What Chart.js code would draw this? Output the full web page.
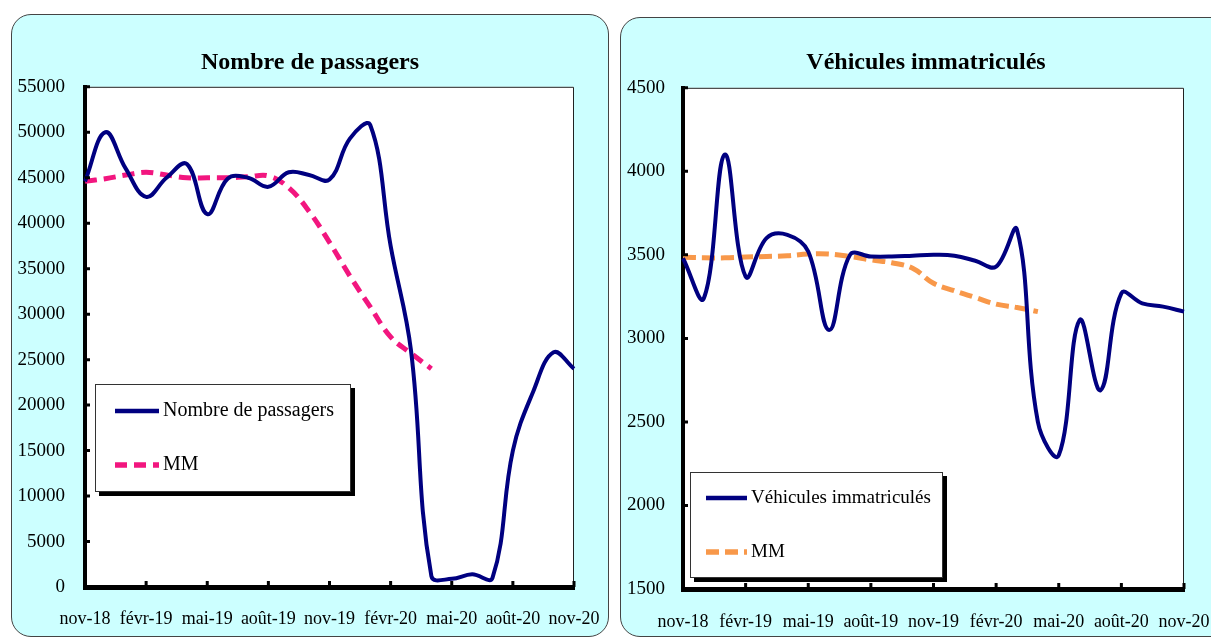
<!DOCTYPE html>
<html lang="fr">
<head>
<meta charset="utf-8">
<script src="https://cdn.jsdelivr.net/npm/chart.js@4.4.0/dist/chart.umd.min.js"></script>
<style>
  html, body { margin: 0; padding: 0; background: #fff; width: 1211px; height: 639px; overflow: hidden; }
  .panel { position: absolute; background: #ccffff; border: 1px solid #444; border-radius: 20px; overflow: hidden; }
  #js--left { left: 11px; top: 14px; width: 596px; height: 621px; }
  #js--right { left: 620px; top: 17px; width: 610px; height: 618px; }
  canvas { display: block; }
</style>
</head>
<body>
<div class="panel" id="js--left"><canvas id="js--passagers" width="596" height="621"></canvas></div>
<div class="panel" id="js--right"><canvas id="js--vehicules" width="610" height="618"></canvas></div>
<script>
// mois (un point par mois, une étiquette tous les 3 mois)
const months = ['nov-18', 'déc-18', 'janv-19', 'févr-19', 'mars-19', 'avr-19', 'mai-19', 'juin-19',
  'juil-19', 'août-19', 'sept-19', 'oct-19', 'nov-19', 'déc-19', 'janv-20', 'févr-20', 'mars-20',
  'avr-20', 'mai-20', 'juin-20', 'juil-20', 'août-20', 'sept-20', 'oct-20', 'nov-20'];

const passagers = [44600, 50000, 46000, 42900, 45000, 46500, 41000, 44900, 45000, 44000, 45600, 45300,
  44800, 49300, 50800, 37500, 26000, 1200, 900, 1400, 1000, 15000, 21500, 25800, 24000];
const passagersMM = [44600, 44900, 45300, 45600, 45300, 45000, 45000, 45000, 45100, 45200, 43900, 41300,
  37900, 34200, 30800, 27500, 25700, 24000];

const vehicules = [3480, 3240, 4100, 3370, 3600, 3620, 3520, 3050, 3500, 3490, 3490, 3495,
  3500, 3495, 3465, 3430, 3650, 2500, 2300, 3110, 2690, 3270, 3210, 3190, 3160];
const vehiculesMM = [3485, 3483, 3482, 3487, 3490, 3495, 3505, 3505, 3490, 3470, 3453, 3420,
  3330, 3285, 3245, 3205, 3185, 3160];

const passagersAxis = [0, 55000, 5000];   // min, max, pas
const vehiculesAxis = [1500, 4500, 500];

const serif = "'Liberation Serif', 'DejaVu Serif', serif";

// fond blanc, cadre fin, petites graduations vers l'intérieur
const framePlugin = {
  id: 'frame',
  beforeDraw(chart) {
    const a = chart.chartArea, ctx = chart.ctx;
    ctx.save();
    ctx.fillStyle = '#fff';
    ctx.fillRect(a.left, a.top, a.right - a.left, a.bottom - a.top);
    ctx.strokeStyle = '#222';
    ctx.lineWidth = 1;
    ctx.beginPath();
    ctx.moveTo(a.left, a.top + 0.5);
    ctx.lineTo(a.right - 0.5, a.top + 0.5);
    ctx.lineTo(a.right - 0.5, a.bottom);
    ctx.stroke();
    ctx.restore();
  },
  afterDraw(chart) {
    const a = chart.chartArea, ctx = chart.ctx;
    const x = chart.scales.x, y = chart.scales.y;
    ctx.save();
    ctx.strokeStyle = '#000';
    ctx.lineWidth = 3;
    ctx.beginPath();
    y.ticks.forEach((t, i) => {
      const py = y.getPixelForTick(i);
      ctx.moveTo(a.left, py);
      ctx.lineTo(a.left + 5, py);
    });
    months.forEach((m, i) => {
      if (i % 3 !== 0) return;
      const px = x.getPixelForValue(i);
      ctx.moveTo(px, a.bottom);
      ctx.lineTo(px, a.bottom - 6);
    });
    ctx.stroke();

    // légende encadrée avec ombre
    const lg = chart.options.plugins.boxLegend;
    ctx.fillStyle = '#000';
    ctx.fillRect(lg.x + 4, lg.y + 4, lg.w, lg.h);
    ctx.fillStyle = '#fff';
    ctx.fillRect(lg.x, lg.y, lg.w, lg.h);
    ctx.strokeStyle = '#333';
    ctx.lineWidth = 1;
    ctx.strokeRect(lg.x + 0.5, lg.y + 0.5, lg.w - 1, lg.h - 1);
    chart.data.datasets.forEach((ds, i) => {
      const ry = lg.rows[i];
      ctx.strokeStyle = ds.borderColor;
      ctx.lineWidth = ds.borderWidth + 0.5;
      ctx.setLineDash(ds.borderDash || []);
      ctx.beginPath();
      ctx.moveTo(lg.sx, ry);
      ctx.lineTo(lg.sx + lg.sw, ry);
      ctx.stroke();
      ctx.setLineDash([]);
      ctx.fillStyle = '#000';
      ctx.font = lg.size + 'px ' + serif;
      ctx.textBaseline = 'middle';
      ctx.fillText(ds.label, lg.sx + lg.sw + 4, ry);
    });
    ctx.restore();
  }
};

function makeChart(id, opts) {
  return new Chart(document.getElementById(id), {
    type: 'line',
    data: {
      labels: months,
      datasets: [
        {
          label: opts.label,
          data: opts.values,
          borderColor: '#000080',
          borderWidth: 4,
          pointRadius: 0,
          tension: 0.4
        },
        {
          label: 'MM',
          data: opts.mm,
          borderColor: opts.mmColor,
          borderWidth: 5,
          borderDash: opts.dash,
          pointRadius: 0,
          tension: 0.4
        }
      ]
    },
    options: {
      responsive: false,
      animation: false,
      layout: { padding: 0 },
      plugins: {
        legend: { display: false },
        tooltip: { enabled: false },
        title: {
          display: true,
          text: opts.label,
          color: '#000',
          font: { family: serif, size: 24, weight: 'bold', lineHeight: 1.2 },
          padding: opts.titlePad
        },
        boxLegend: opts.legend
      },
      scales: {
        x: {
          offset: false,
          grid: { display: false, drawTicks: false },
          border: { display: true, color: '#000', width: 5 },
          ticks: {
            autoSkip: false, maxRotation: 0, color: '#000', padding: opts.xPad,
            font: { family: serif, size: 18 },
            callback: (v, i) => i % 3 === 0 ? months[i] : ''
          },
          afterFit: s => { s.height = opts.xHeight; s.paddingRight = opts.rightPad; }
        },
        y: {
          min: opts.axis[0], max: opts.axis[1],
          grid: { display: false, drawTicks: false },
          border: { display: true, color: '#000', width: 4 },
          ticks: {
            stepSize: opts.axis[2], color: '#000', padding: opts.yPad,
            font: { family: serif, size: 19 },
            callback: v => String(v)
          },
          afterFit: s => { s.width = opts.yWidth; }
        }
      }
    },
    plugins: [framePlugin]
  });
}

const passagersChart = makeChart('js--passagers', {
  label: 'Nombre de passagers',
  values: passagers,
  mm: passagersMM,
  mmColor: '#f2167f',
  dash: [12, 7],
  axis: passagersAxis,
  titlePad: { top: 33, bottom: 10 },
  xHeight: 49, xPad: 21, rightPad: 34,
  yWidth: 73, yPad: 20,
  legend: { x: 83, y: 369, w: 256, h: 108, sx: 103, sw: 44, rows: [396, 450], size: 20 }
});

const vehiculesChart = makeChart('js--vehicules', {
  label: 'Véhicules immatriculés',
  values: vehicules,
  mm: vehiculesMM,
  mmColor: '#f8984a',
  dash: [13, 6],
  axis: vehiculesAxis,
  titlePad: { top: 30, bottom: 11 },
  xHeight: 47, xPad: 22, rightPad: 47,
  yWidth: 62, yPad: 18,
  legend: { x: 69, y: 454, w: 253, h: 106, sx: 85, sw: 41, rows: [480, 534], size: 19 }
});
</script>
</body>
</html>
